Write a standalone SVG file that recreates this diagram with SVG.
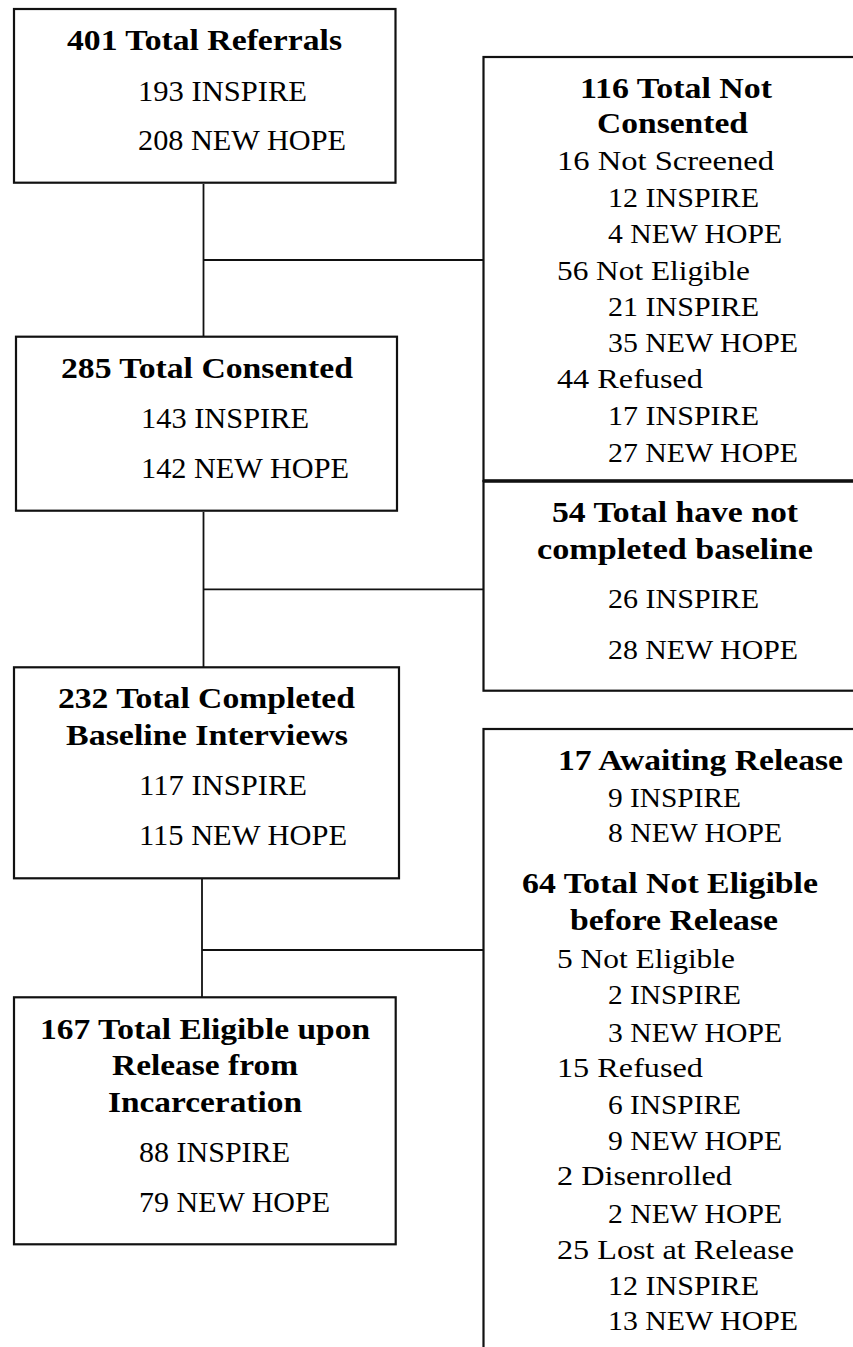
<svg xmlns="http://www.w3.org/2000/svg" width="853" height="1347" viewBox="0 0 853 1347">
<style>
.box{fill:#fff;stroke:#111;stroke-width:2.2}
.con{fill:none;stroke:#111;stroke-width:1.8}
text{font-family:"Liberation Serif","DejaVu Serif",serif;font-size:29px;fill:#000}
.b{font-weight:bold;font-size:30px}
.r{font-size:28px}
</style>
<rect width="853" height="1347" fill="#fff"/>
<g id="connectors">
<line class="con" x1="203.5" y1="184" x2="203.5" y2="336"/>
<line class="con" x1="203.5" y1="260" x2="484" y2="260"/>
<line class="con" x1="203.5" y1="512" x2="203.5" y2="667"/>
<line class="con" x1="203.5" y1="589.3" x2="484" y2="589.3"/>
<line class="con" x1="202" y1="879" x2="202" y2="997"/>
<line class="con" x1="202" y1="950" x2="484" y2="950"/>
</g>
<g id="n1">
<rect class="box" x="14" y="9" width="381.5" height="173.7"/>
<text class="b" x="67" y="50" textLength="275" lengthAdjust="spacingAndGlyphs">401 Total Referrals</text>
<text x="138" y="101" textLength="169" lengthAdjust="spacingAndGlyphs">193 INSPIRE</text>
<text x="138" y="150" textLength="208" lengthAdjust="spacingAndGlyphs">208 NEW HOPE</text>
</g>
<g id="n2">
<rect class="box" x="16" y="336.7" width="381" height="174"/>
<text class="b" x="61" y="378" textLength="292" lengthAdjust="spacingAndGlyphs">285 Total Consented</text>
<text x="141" y="428" textLength="168" lengthAdjust="spacingAndGlyphs">143 INSPIRE</text>
<text x="141" y="478" textLength="208" lengthAdjust="spacingAndGlyphs">142 NEW HOPE</text>
</g>
<g id="n3">
<rect class="box" x="14" y="667.3" width="385" height="211"/>
<text class="b" x="58" y="708" textLength="297" lengthAdjust="spacingAndGlyphs">232 Total Completed</text>
<text class="b" x="66" y="745" textLength="282" lengthAdjust="spacingAndGlyphs">Baseline Interviews</text>
<text x="139" y="795" textLength="168" lengthAdjust="spacingAndGlyphs">117 INSPIRE</text>
<text x="139" y="845" textLength="208" lengthAdjust="spacingAndGlyphs">115 NEW HOPE</text>
</g>
<g id="n4">
<rect class="box" x="14" y="997.3" width="381.7" height="247"/>
<text class="b" x="40" y="1039" textLength="330" lengthAdjust="spacingAndGlyphs">167 Total Eligible upon</text>
<text class="b" x="112" y="1075" textLength="186" lengthAdjust="spacingAndGlyphs">Release from</text>
<text class="b" x="108" y="1112" textLength="194" lengthAdjust="spacingAndGlyphs">Incarceration</text>
<text x="139" y="1162" textLength="151" lengthAdjust="spacingAndGlyphs">88 INSPIRE</text>
<text x="139" y="1212" textLength="191" lengthAdjust="spacingAndGlyphs">79 NEW HOPE</text>
</g>
<g id="r1">
<rect class="box" x="483.5" y="57" width="420" height="424"/>
<text class="b" x="580" y="98" textLength="192" lengthAdjust="spacingAndGlyphs">116 Total Not</text>
<text class="b" x="597" y="133" textLength="151" lengthAdjust="spacingAndGlyphs">Consented</text>
<text class="r" x="557" y="170" textLength="217" lengthAdjust="spacingAndGlyphs">16 Not Screened</text>
<text class="r" x="608" y="207" textLength="151" lengthAdjust="spacingAndGlyphs">12 INSPIRE</text>
<text class="r" x="608" y="243" textLength="174" lengthAdjust="spacingAndGlyphs">4 NEW HOPE</text>
<text class="r" x="557" y="280" textLength="193" lengthAdjust="spacingAndGlyphs">56 Not Eligible</text>
<text class="r" x="608" y="316" textLength="151" lengthAdjust="spacingAndGlyphs">21 INSPIRE</text>
<text class="r" x="608" y="352" textLength="190" lengthAdjust="spacingAndGlyphs">35 NEW HOPE</text>
<text class="r" x="557" y="388" textLength="146" lengthAdjust="spacingAndGlyphs">44 Refused</text>
<text class="r" x="608" y="425" textLength="151" lengthAdjust="spacingAndGlyphs">17 INSPIRE</text>
<text class="r" x="608" y="462" textLength="190" lengthAdjust="spacingAndGlyphs">27 NEW HOPE</text>
</g>
<g id="r2">
<rect class="box" x="483.5" y="481" width="420" height="209.7"/>
<line x1="483.5" y1="481" x2="853" y2="481" stroke="#111" stroke-width="3.6"/>
<text class="b" x="552" y="522" textLength="246" lengthAdjust="spacingAndGlyphs">54 Total have not</text>
<text class="b" x="537" y="559" textLength="276" lengthAdjust="spacingAndGlyphs">completed baseline</text>
<text class="r" x="608" y="608" textLength="151" lengthAdjust="spacingAndGlyphs">26 INSPIRE</text>
<text class="r" x="608" y="659" textLength="190" lengthAdjust="spacingAndGlyphs">28 NEW HOPE</text>
</g>
<g id="r3">
<rect class="box" x="483.5" y="729" width="420" height="700"/>
<text class="b" x="558" y="770" textLength="285" lengthAdjust="spacingAndGlyphs">17 Awaiting Release</text>
<text class="r" x="608" y="807" textLength="133" lengthAdjust="spacingAndGlyphs">9 INSPIRE</text>
<text class="r" x="608" y="842" textLength="174" lengthAdjust="spacingAndGlyphs">8 NEW HOPE</text>
<text class="b" x="522" y="893" textLength="296" lengthAdjust="spacingAndGlyphs">64 Total Not Eligible</text>
<text class="b" x="570" y="930" textLength="208" lengthAdjust="spacingAndGlyphs">before Release</text>
<text class="r" x="557" y="968" textLength="178" lengthAdjust="spacingAndGlyphs">5 Not Eligible</text>
<text class="r" x="608" y="1004" textLength="133" lengthAdjust="spacingAndGlyphs">2 INSPIRE</text>
<text class="r" x="608" y="1042" textLength="174" lengthAdjust="spacingAndGlyphs">3 NEW HOPE</text>
<text class="r" x="557" y="1077" textLength="146" lengthAdjust="spacingAndGlyphs">15 Refused</text>
<text class="r" x="608" y="1114" textLength="133" lengthAdjust="spacingAndGlyphs">6 INSPIRE</text>
<text class="r" x="608" y="1150" textLength="174" lengthAdjust="spacingAndGlyphs">9 NEW HOPE</text>
<text class="r" x="557" y="1185" textLength="175" lengthAdjust="spacingAndGlyphs">2 Disenrolled</text>
<text class="r" x="608" y="1223" textLength="174" lengthAdjust="spacingAndGlyphs">2 NEW HOPE</text>
<text class="r" x="557" y="1259" textLength="237" lengthAdjust="spacingAndGlyphs">25 Lost at Release</text>
<text class="r" x="608" y="1295" textLength="151" lengthAdjust="spacingAndGlyphs">12 INSPIRE</text>
<text class="r" x="608" y="1330" textLength="190" lengthAdjust="spacingAndGlyphs">13 NEW HOPE</text>
</g>
</svg>
